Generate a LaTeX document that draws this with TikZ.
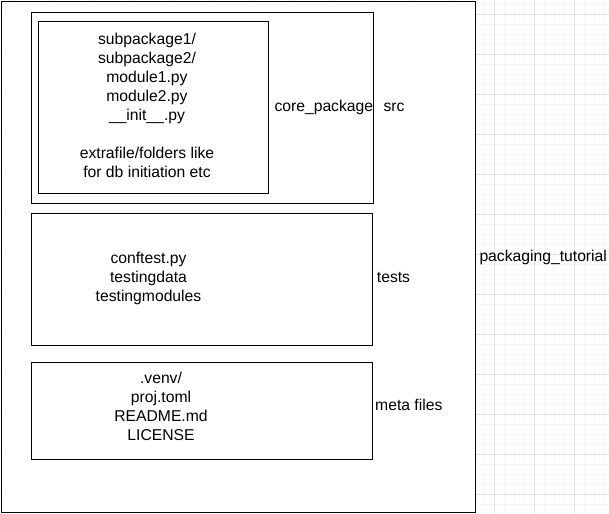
\documentclass[tikz,border=0pt]{standalone}
\usepackage{fontspec}
\setmainfont{Liberation Sans}
\begin{document}
\begin{tikzpicture}[x=1pt,y=-1pt,
  minorgrid/.style={draw={rgb,255:red,246;green,246;blue,246},line width=0.7pt},
  majorgrid/.style={draw={rgb,255:red,226;green,226;blue,226},line width=0.7pt},
  box/.style={draw=black,fill=white,line width=1.3pt,anchor=north west,inner sep=0pt,rectangle},
  lbl/.style={anchor=base west,inner sep=0pt,font=\fontsize{15.7}{19}\selectfont},
  block/.style={anchor=center,inner sep=0pt,align=center,font=\fontsize{15.7}{19}\selectfont}]
\useasboundingbox (0,0) rectangle (609,513);
\fill[white] (0,0) rectangle (609,513);
\foreach \x in {4,14,...,604} \draw[minorgrid] (\x,0) -- (\x,513);
\foreach \y in {4,14,...,513} \draw[minorgrid] (0,\y) -- (609,\y);
\foreach \x in {14,54,...,604} \draw[majorgrid] (\x,0) -- (\x,513);
\foreach \y in {14,54,...,513} \draw[majorgrid] (0,\y) -- (609,\y);
\node[box,minimum width=474pt,minimum height=511pt] (outer) at (1,1) {};
\node[box,minimum width=342pt,minimum height=191pt] (core) at (31,12) {};
\node[box,minimum width=230pt,minimum height=172pt] (inner) at (38,21) {};
\node[box,minimum width=341pt,minimum height=132pt] (tests) at (31,213) {};
\node[box,minimum width=341pt,minimum height=97pt] (meta) at (31,362) {};
\node[block] (innertext) at (147,105.1) {subpackage1/\\subpackage2/\\module1.py\\module2.py\\\_\_init\_\_.py\\[19pt]extrafile/folders like\\for db initiation etc};
\node[block] (teststext) at (148.5,278.8) {conftest.py\\testingdata\\testingmodules};
\node[block] (metatext) at (161,406.4) {.venv/\\proj.toml\\README.md\\LICENSE};
\node[lbl] (corelbl) at (274.3,111.7) {core\_package};
\node[lbl] (srclbl) at (383.3,111.7) {src};
\node[lbl] (testslbl) at (376.7,282.7) {tests};
\node[lbl] (metalbl) at (375,410.7) {meta files};
\node[lbl] (pkglbl) at (479.3,261.7) {packaging\_tutorial};
\end{tikzpicture}
\end{document}
